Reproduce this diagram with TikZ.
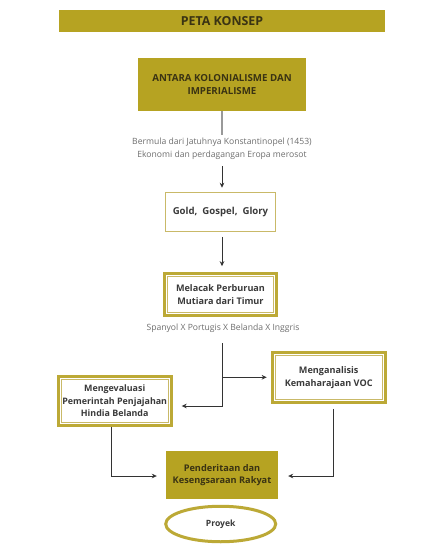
\documentclass[tikz,border=0pt]{standalone}
\usepackage{fontspec}
\setmainfont{Open Sans}
\usetikzlibrary{arrows.meta,shapes.geometric,calc}
\definecolor{gold}{HTML}{B6A322}
\definecolor{goldline}{HTML}{BCA936}
\definecolor{goldthin}{HTML}{C9B968}
\definecolor{darktxt}{HTML}{3A3313}
\definecolor{boxtxt}{HTML}{3A3A3A}
\definecolor{graytxt}{HTML}{6E6E6E}
\definecolor{conn}{HTML}{333333}
\tikzset{
  filledbox/.style={fill=gold, draw=none, text=darktxt, align=center, inner sep=0pt,
    font=\bfseries\fontsize{9.7}{12.8}\selectfont},
  thinbox/.style={fill=white, draw=goldthin, line width=1pt, text=boxtxt, align=center, inner sep=0pt,
    font=\bfseries\fontsize{9.6}{12.5}\selectfont},
  framebox/.style={fill=white, draw=goldline, line width=3pt, text=boxtxt, align=center, inner sep=0pt,
    font=\bfseries\fontsize{9.1}{12.8}\selectfont},
  innerline/.style={draw=goldthin, line width=0.9pt},
  note/.style={text=graytxt, align=center, inner sep=3pt, font=\fontsize{8.6}{12.7}\selectfont},
  arr/.style={draw=conn, line width=0.9pt, -{Stealth[length=5pt,width=4.6pt]}},
  plain/.style={draw=conn, line width=0.9pt},
  grayline/.style={draw=gray!80, line width=1.4pt},
}
\begin{document}
\begin{tikzpicture}[x=1pt,y=-1pt]
\useasboundingbox[fill=white] (0,0) rectangle (446,557);

\node[filledbox, minimum width=326pt, minimum height=22pt, font=\bfseries\fontsize{12.4}{14}\selectfont] (title) at (222,21) {PETA KONSEP};

\node[filledbox, minimum width=168pt, minimum height=53pt] (b1) at (222,84.5) {ANTARA KOLONIALISME DAN\\IMPERIALISME};

\node[note] (t1) at (222,148.6) {Bermula dari Jatuhnya Konstantinopel (1453)\\Ekonomi dan perdagangan Eropa merosot};

\node[thinbox, minimum width=110pt, minimum height=38.5pt] (b2) at (220.5,212) {Gold,\ \ Gospel,\ \ Glory};

\node[framebox, minimum width=112pt, minimum height=42pt] (b3) at (220.5,294.7) {Melacak Perburuan\\Mutiara dari Timur};
\draw[innerline] ($(b3.north west)+(4.5,4.5)$) rectangle ($(b3.south east)+(-4.5,-4.5)$);

\node[note] (t2) at (223,328) {Spanyol X Portugis X Belanda X Inggris};

\node[framebox, minimum width=113pt, minimum height=50pt] (voc) at (328.7,377.3) {Menganalisis\\Kemaharajaan VOC};
\draw[innerline] ($(voc.north west)+(4.5,4.5)$) rectangle ($(voc.south east)+(-4.5,-4.5)$);

\node[framebox, minimum width=113pt, minimum height=49pt, font=\bfseries\fontsize{8.9}{12.6}\selectfont] (mev) at (114.7,400.7) {Mengevaluasi\\Pemerintah Penjajahan\\Hindia Belanda};
\draw[innerline] ($(mev.north west)+(4.5,4.5)$) rectangle ($(mev.south east)+(-4.5,-4.5)$);

\node[filledbox, minimum width=112pt, minimum height=47.5pt, font=\bfseries\fontsize{9.2}{12.6}\selectfont] (pen) at (222,475) {Penderitaan dan\\Kesengsaraan Rakyat};

\node[ellipse, draw=goldline, line width=3pt, fill=white, minimum width=110pt, minimum height=35.5pt, inner sep=0pt, text=boxtxt, font=\bfseries\fontsize{8.6}{12}\selectfont] (pro) at (220.7,524) {Proyek};

% connectors
\draw[grayline] (b1.south) -- (t1.north);
\draw[arr, shorten <=4pt, shorten >=4.5pt] (t1.south) -- (t1.south |- b2.north);
\draw[arr, shorten <=5pt, shorten >=6pt] (b2.south -| t1.south) -- (b3.north -| t1.south);

\coordinate (j0) at (222,343);
\coordinate (j1) at (222,377.3);
\coordinate (jb) at (222,406);
\draw[plain] (j0) -- (j1);
\draw[arr, shorten >=9pt] (j1) -- (jb) -- (jb -| mev.east);
\draw[arr, shorten >=4pt] (j1) -- (j1 -| voc.west);

\coordinate (c1) at (111,476);
\coordinate (c2) at (333,476);
\draw[arr, shorten >=9pt] (mev.south -| c1) -- (c1) -- (c1 -| pen.west);
\draw[arr, shorten <=5pt, shorten >=10pt] (voc.south -| c2) -- (c2) -- (c2 -| pen.east);
\end{tikzpicture}
\end{document}
